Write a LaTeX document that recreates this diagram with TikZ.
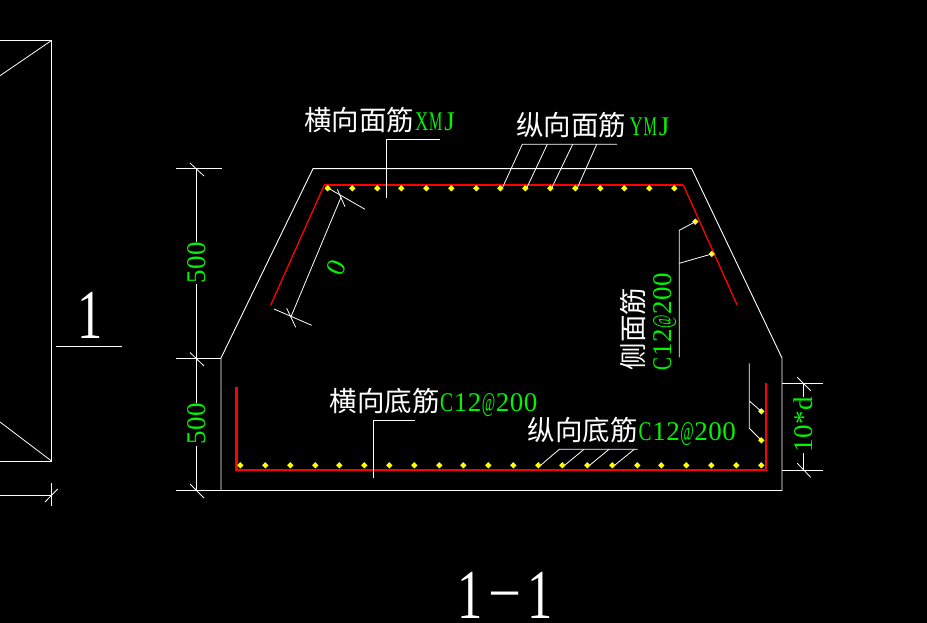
\documentclass[tikz,border=0pt]{standalone}
\usepackage{fontspec}
\usepackage{graphicx}
\setmainfont{Liberation Serif}
\newfontfamily\cjkf{Noto Sans CJK SC}
\definecolor{cadgreen}{RGB}{0,245,0}
\definecolor{cadyellow}{RGB}{255,255,0}
\definecolor{cadred}{RGB}{255,0,0}
\tikzset{
  wline/.style={draw=white,line width=0.9pt},
  fline/.style={draw=white,line width=0.8pt},
  rebar/.style={draw=cadred,line width=2.2pt,line join=miter},
  rebarthin/.style={draw=cadred,line width=1.3pt},
  cjk/.style={text=white,inner sep=0pt,font=\cjkf\fontsize{27.5}{28}\selectfont},
  lat/.style={text=cadgreen,inner sep=0pt,font=\fontsize{27}{28}\selectfont},
  title/.style={text=white,inner sep=0pt,font=\fontsize{70}{70}\selectfont},
  dotm/.style={fill=cadyellow,draw=none}
}
\newcommand{\rdot}[2]{\fill[dotm] (#1-3.2,#2) -- (#1,#2-3.2) -- (#1+3.2,#2) -- (#1,#2+3.2) -- cycle;}
% fixed-pitch cell of 14 px holding one glyph, squeezed to fit
\newcommand{\cell}[2]{\makebox[14pt]{\scalebox{#1}[1]{#2}}}
\newcommand{\fig}[1]{\cell{1}{#1}}
\newcommand{\cat}{\cell{0.72}{C}\fig{1}\fig{2}\cell{0.54}{@}\fig{2}\fig{0}\fig{0}}
\newcommand{\bigone}{\makebox[35pt]{\scalebox{0.72}[1]{1}}}
\begin{document}
\begin{tikzpicture}[x=1pt,y=-1pt]
\fill[black] (0,0) rectangle (927,623);
\useasboundingbox (0,0) rectangle (927,623);
% left detail
\draw[wline] (0,40.5) -- (51.5,40.5) -- (51.5,461) -- (0,461);
\draw[fline] (51.5,40.5) -- (0,75.7);
\draw[fline] (51.5,461) -- (0,422);
\draw[wline] (0,495.3) -- (51.5,495.3);
\draw[fline] (51.3,483) -- (51.3,505.7);
\draw[fline] (45,502) -- (57.7,489);
% section mark
\node[title,anchor=base] (secmark) at (90,338) {\bigone};
\draw[wline] (56,346.3) -- (122,346.3);
\node[title,anchor=base] (sectitle) at (505,618) {\bigone\makebox[35pt]{\raisebox{14.5pt}{\scalebox{1.5}[0.6]{-}}}\bigone};
% outline
\draw[wline,line join=miter] (221,358) -- (313,168.7) -- (691.7,168.7) -- (782,358) -- (782,490.5) -- (221,490.5) -- cycle;
% left dimensions
\draw[wline] (176,168.4) -- (222,168.4);
\draw[wline] (176,358) -- (221,358);
\draw[wline] (176,490.5) -- (221,490.5);
\node[lat,rotate=90] (dima) at (197,262.5) {\fig{5}\fig{0}\fig{0}};
\node[lat,rotate=90] (dimb) at (197,423.5) {\fig{5}\fig{0}\fig{0}};
\draw[fline] (196.5,168.4) -- (196.5,242);
\draw[fline] (196.5,284) -- (196.5,403);
\draw[fline] (196.5,446) -- (196.5,490.5);
\draw[fline] (190,163) -- (204,176);
\draw[fline] (190,352.5) -- (204,366);
\draw[fline] (190,484) -- (204,498);
% right dimension
\draw[wline] (782,383.3) -- (822.7,383.3);
\draw[wline] (782,470.3) -- (822.7,470.3);
\node[lat,rotate=90] (dimc) at (803.3,425) {\fig{1}\fig{0}\fig{*}\fig{d}};
\draw[fline] (803.3,383.3) -- (803.3,397);
\draw[fline] (803.3,453) -- (803.3,470.3);
\draw[fline] (797.3,377.3) -- (810.7,390.7);
\draw[fline] (797.3,463.3) -- (810.7,477.3);
% slanted dimension
\draw[fline] (341,197.3) -- (291,316.7);
\draw[fline] (325.7,186.7) -- (365,209.3);
\draw[fline] (274,309) -- (311.7,325.3);
\draw[fline] (337.3,189.3) -- (345,206.7);
\draw[fline] (286.7,308.3) -- (295.7,327.3);
\node[lat,rotate=65] (dimd) at (336.7,268) {0};
% rebars
\draw[rebarthin] (270.7,305) -- (324.3,185);
\draw[rebarthin] (683.3,185) -- (737,304.7);
\draw[rebar] (324.3,185) -- (683.3,185);
\draw[rebar] (236.5,387.3) -- (236.5,470) -- (765.7,470) -- (765.7,383);
% dots
\foreach \x in {327.7,352.3,377.3,401.3,426.3,451.3,476.3,500.3,525.3,550.3,575.3,600.3,624.3,649.3,674.3}{\rdot{\x}{188.3}}
\foreach \x in {240.3,265.3,290.3,315.3,339.3,364.3,389.3,414.3,439.3,463.3,488.3,513.3,538.3,562.3,587.3,612.3,637.3,661.3,686.3,711.3,736.3,761.3}{\rdot{\x}{465.3}}
\rdot{695.3}{221.7}
\rdot{711.7}{254}
\rdot{761.3}{440.3}
\rdot{761.3}{411.3}
% leaders
\draw[fline] (440,139.3) -- (386.3,139.3) -- (386.3,197.7);
\draw[fline] (617,144.3) -- (522.3,144.3) -- (502.3,188);
\draw[fline] (547.3,144.3) -- (526.7,188);
\draw[fline] (572.7,144.3) -- (551.7,188);
\draw[fline] (596.7,144.3) -- (577.3,188);
\draw[fline] (695.3,221.7) -- (679.3,230.3) -- (679.3,357.3);
\draw[fline] (679.3,263.3) -- (711.7,254);
\draw[fline] (749.3,363.3) -- (749.3,428.3) -- (761.3,440.3);
\draw[fline] (749.3,401) -- (761.3,411.3);
\draw[fline] (415,420.3) -- (373.3,420.3) -- (373.3,478.3);
\draw[fline] (637.7,449.3) -- (559.3,449.3) -- (541,465);
\draw[fline] (584,449.3) -- (565,465);
\draw[fline] (609,449.3) -- (590,465);
\draw[fline] (634.3,449.3) -- (615,465);
% labels
\node[cjk,anchor=base west] (la) at (304,130.6) {横向面筋};
\node[lat,anchor=base west] (lax) at (414.5,130.6) {\cell{0.68}{X}\cell{0.55}{M}\fig{J}};
\node[cjk,anchor=base west] (lb) at (516,135.6) {纵向面筋};
\node[lat,anchor=base west] (lbx) at (629,135.6) {\cell{0.68}{Y}\cell{0.55}{M}\fig{J}};
\node[cjk,anchor=base west] (lc) at (329.3,411) {横向底筋};
\node[lat,anchor=base west] (lcx) at (439.5,411) {\cat};
\node[cjk,anchor=base west] (ld) at (527.7,440) {纵向底筋};
\node[lat,anchor=base west] (ldx) at (638,440) {\cat};
\node[cjk,rotate=90,anchor=base west] (le) at (643,370.5) {侧面筋};
\node[lat,rotate=90,anchor=base west] (lex) at (671,371) {\cat};
\end{tikzpicture}
\end{document}
